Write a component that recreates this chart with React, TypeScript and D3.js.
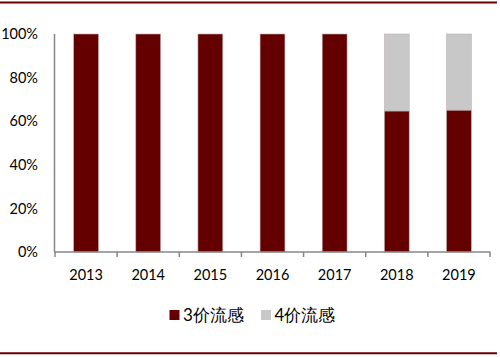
import React from "react";
import * as d3 from "d3";

const years = ["2013", "2014", "2015", "2016", "2017", "2018", "2019"];
const trivalent = [100, 100, 100, 100, 100, 64.7, 65.1];
const quadrivalent = [0, 0, 0, 0, 0, 35.3, 34.9];
const yTicks = [0, 20, 40, 60, 80, 100];
const seriesNames = ["3价流感", "4价流感"];
const colors = ["#640000", "#c8c8c8"];

export default function App() {
  const W = 500, H = 357;
  const left = 55, right = 490, top = 34, bottom = 252;
  const x = d3.scaleBand<string>().domain(years).range([left, right]).paddingInner(0.6).paddingOuter(0.3);
  const xb = d3.scaleBand<string>().domain(years).range([left, right]);
  const y = d3.scaleLinear().domain([0, 100]).range([bottom, top]);
  const font = "Lato, 'Noto Sans', sans-serif";
  const stack = d3.stack<any>().keys(["a", "b"])(years.map((yr, i) => ({ a: trivalent[i], b: quadrivalent[i] })));

  return (
    <svg width={W} height={H} style={{ position: "absolute", left: 0, top: 0 }}>
      <rect x={0} y={0} width={W} height={H} fill="#fff" />
      <line x1={0} x2={497} y1={2.5} y2={2.5} stroke="#6b0000" strokeWidth={2} />
      <line x1={0} x2={497} y1={353.3} y2={353.3} stroke="#6b0000" strokeWidth={2} />
      {stack.map((s, si) =>
        s.map((d, i) =>
          d[1] - d[0] > 0 ? (
            <rect
              key={si + "-" + i}
              x={x(years[i])}
              width={x.bandwidth()}
              y={y(d[1])}
              height={y(d[0]) - y(d[1])}
              fill={colors[si]}
              stroke="#c0b0b0"
              strokeWidth={0.6}
            />
          ) : null
        )
      )}
      <line x1={left - 0.5} x2={left - 0.5} y1={top} y2={bottom} stroke="#878787" strokeWidth={1.5} />
      <line x1={left - 1} x2={right + 0.5} y1={bottom} y2={bottom} stroke="#878787" strokeWidth={1.5} />
      {[...years.map((yr) => xb(yr)!), right].map((t, i) => (
        <line key={"t" + i} x1={t} x2={t} y1={bottom} y2={bottom + 5} stroke="#878787" strokeWidth={1.5} />
      ))}
      {yTicks.map((t) => (
        <text key={"y" + t} x={38} y={y(t)} dy="0.36em" textAnchor="end" fontFamily={font} fontSize={14.5} fill="#000">
          {t + "%"}
        </text>
      ))}
      {years.map((yr) => (
        <text key={"x" + yr} x={xb(yr)! + xb.bandwidth() / 2} y={280} textAnchor="middle" fontFamily={font} fontSize={14.5} fill="#000">
          {yr}
        </text>
      ))}
      {seriesNames.map((n, i) => {
        const lx = [169.5, 261][i];
        return (
          <g key={"l" + i}>
            <rect x={lx} y={310} width={10} height={10} fill={colors[i]} />
            <text x={lx + 13.5} y={315} dy="0.36em" fontFamily={font} fontSize={17} fill="#000">
              {n}
            </text>
          </g>
        );
      })}
    </svg>
  );
}
